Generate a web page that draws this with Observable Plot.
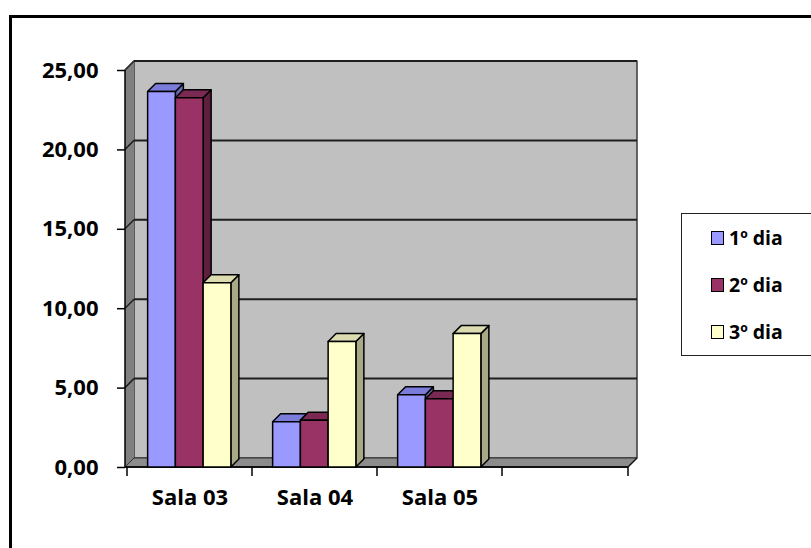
<!DOCTYPE html>
<html><head><meta charset="utf-8">
<script src="https://cdn.jsdelivr.net/npm/d3@7"></script>
<script src="https://cdn.jsdelivr.net/npm/@observablehq/plot@0.6"></script>
<style>
body{margin:0;background:#fff;}
#wrap{position:relative;width:811px;height:548px;overflow:hidden;font-family:"Open Sans",sans-serif;}
#frame{position:absolute;left:9px;top:15px;width:900px;height:700px;border:3px solid #000;box-sizing:border-box;}
#chart{position:absolute;left:0;top:0;}
#legend{position:absolute;left:681px;top:213px;width:200px;height:143px;border:1.5px solid #222;background:#fff;box-sizing:border-box;}
.item{position:absolute;left:29px;display:flex;align-items:center;font-weight:700;font-size:19.5px;line-height:22px;color:#000;}
.sw{width:11px;height:12px;border:1.5px solid #000;margin-right:5px;}
</style></head>
<body>
<div id="wrap"><div id="frame"></div><div id="chart"></div><div id="legend"></div></div>
<script>
// ---- data ----
const salas = ["Sala 03", "Sala 04", "Sala 05"];
const categories = [...salas, ""];
const dias = ["1º dia", "2º dia", "3º dia"];
const dia1 = [23.65, 2.85, 4.55];
const dia2 = [23.25, 2.95, 4.3];
const dia3 = [11.6, 7.9, 8.4];
const yTicks = [0, 5, 10, 15, 20, 25];
const frontColors = ["#9999FF", "#993366", "#FFFFCC"];
const topColors = ["#7B7BD9", "#7A2952", "#DCDCB0"];
const sideColors = ["#6A6AB0", "#5E1F3F", "#A9A987"];

const series = [dia1, dia2, dia3];
const rows = [];
series.forEach((vals, s) => vals.forEach((v, i) => rows.push({sala: salas[i], dia: dias[s], s, value: v})));

const DEPTH = 9;      // wall depth (px)
const BAR_D = 8;      // bar depth (px)
const GAP = 0.165;    // left gap as band fraction
const BARW = 0.222;   // bar width as band fraction

const fmt = d => d.toFixed(2).replace(".", ",");

function poly(g, pts, fill, stroke, sw) {
  g.append("polygon").attr("points", pts.map(p => p.join(",")).join(" "))
    .attr("fill", fill).attr("stroke", stroke).attr("stroke-width", sw).attr("stroke-linejoin", "round");
}

function walls(index, scales) {
  const {x, y} = scales;
  const [xl, xr] = x.range();
  const y0 = y(0), yT = y(d3.max(yTicks));
  const D = DEPTH;
  const g = d3.create("svg:g");
  // back wall
  poly(g, [[xl + D, yT - D], [xr + D, yT - D], [xr + D, y0 - D], [xl + D, y0 - D]], "#C0C0C0", "#3a3a3a", 1.5);
  // left wall
  poly(g, [[xl, y0], [xl, yT], [xl + D, yT - D], [xl + D, y0 - D]], "#808080", "none", 0);
  // floor
  poly(g, [[xl, y0], [xr, y0], [xr + D, y0 - D], [xl + D, y0 - D]], "#8C8C8C", "#333", 1);
  // gridlines
  for (const t of yTicks) {
    if (t === 0) continue;
    g.append("line").attr("x1", xl + D).attr("x2", xr + D).attr("y1", y(t) - D).attr("y2", y(t) - D)
      .attr("stroke", "#1e1e1e").attr("stroke-width", 2);
    g.append("line").attr("x1", xl).attr("x2", xl + D).attr("y1", y(t)).attr("y2", y(t) - D)
      .attr("stroke", "#1e1e1e").attr("stroke-width", 1.5);
  }
  // floor front edge + wall edge
  g.append("line").attr("x1", xl).attr("x2", xr).attr("y1", y0).attr("y2", y0).attr("stroke", "#111").attr("stroke-width", 2);
  g.append("line").attr("x1", xr).attr("x2", xr + D).attr("y1", y0).attr("y2", y0 - D).attr("stroke", "#111").attr("stroke-width", 1.5);
  g.append("line").attr("x1", xl).attr("x2", xl + D).attr("y1", yT).attr("y2", yT - D).attr("stroke", "#333").attr("stroke-width", 1.5);
  // y axis line
  g.append("line").attr("x1", xl).attr("x2", xl).attr("y1", yT).attr("y2", y0).attr("stroke", "#000").attr("stroke-width", 1.5);
  // x ticks at band boundaries
  const bounds = categories.map(c => x(c)).concat([xr]);
  for (const b of bounds) {
    g.append("line").attr("x1", b).attr("x2", b).attr("y1", y0).attr("y2", y0 + 9).attr("stroke", "#000").attr("stroke-width", 1.5);
  }
  return g.node();
}

function bars3d(index, scales) {
  const {x, y} = scales;
  const bw = x.bandwidth();
  const d = BAR_D;
  const g = d3.create("svg:g");
  const yb = y(0);
  for (const sala of salas) {
    for (const r of rows.filter(r => r.sala === sala).sort((a, b) => a.s - b.s)) {
      const x0 = x(r.sala) + bw * (GAP + r.s * BARW);
      const w = bw * BARW;
      const yt = y(r.value);
      poly(g, [[x0 + w, yt], [x0 + w + d, yt - d], [x0 + w + d, yb - d], [x0 + w, yb]], sideColors[r.s], "#000", 1.5);
      poly(g, [[x0, yt], [x0 + d, yt - d], [x0 + w + d, yt - d], [x0 + w, yt]], topColors[r.s], "#000", 1.5);
      poly(g, [[x0, yt], [x0 + w, yt], [x0 + w, yb], [x0, yb]], frontColors[r.s], "#000", 1.5);
    }
  }
  return g.node();
}

const plot = Plot.plot({
  width: 811,
  height: 548,
  marginLeft: 125,
  marginRight: 183,
  marginTop: 70,
  marginBottom: 81,
  style: {fontFamily: "'Open Sans', sans-serif", fontSize: "22px", fontWeight: "bold", background: "transparent", color: "#000"},
  x: {type: "band", domain: categories, padding: 0},
  y: {domain: [0, 25]},
  marks: [
    walls,
    Plot.axisY(yTicks, {tickFormat: fmt, tickSize: 8, tickPadding: 19, stroke: "#000", strokeWidth: 1.5, label: null}),
    Plot.axisX({tickSize: 0, tickPadding: 22, label: null}),
    bars3d
  ]
});
document.getElementById("chart").appendChild(plot);

// legend
const legend = document.getElementById("legend");
dias.forEach((name, i) => {
  const it = document.createElement("div");
  it.className = "item";
  it.style.top = (13 + i * 47) + "px";
  const sw = document.createElement("div");
  sw.className = "sw";
  sw.style.background = frontColors[i];
  const tx = document.createElement("span");
  tx.textContent = name;
  it.appendChild(sw); it.appendChild(tx);
  legend.appendChild(it);
});
</script>
</body></html>
